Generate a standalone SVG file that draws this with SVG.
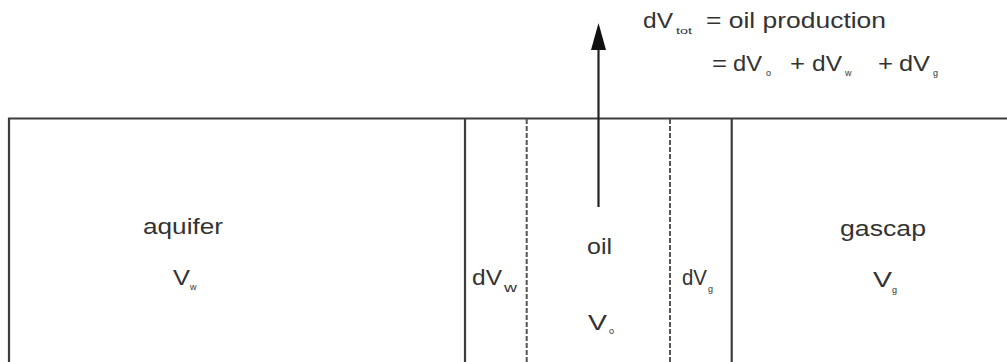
<svg xmlns="http://www.w3.org/2000/svg" width="1007" height="362" viewBox="0 0 1007 362">
<style>
.t{font-family:"Liberation Sans",Arial,sans-serif;font-size:22px;fill:#333;}
.s{font-family:"Liberation Sans",Arial,sans-serif;font-size:9px;fill:#333;}
.s2{font-family:"Liberation Sans",Arial,sans-serif;font-size:12px;fill:#333;}
.solid{stroke:#3c3c3c;stroke-width:2.2;fill:none;}
.dash{stroke:#555;stroke-width:2;fill:none;stroke-dasharray:5 2;}
</style>
<defs>
<marker id="ah" markerWidth="27" markerHeight="15" refX="0" refY="7.5" orient="auto" markerUnits="userSpaceOnUse" viewBox="0 0 27 15">
<path d="M0 0 L27 7.5 L0 15 Z" fill="#111"/>
</marker>
</defs>
<rect width="1007" height="362" fill="#fff"/>
<g id="reservoir">
<path class="solid" d="M9 362 V118.5 H1007"/>
<line class="solid" x1="465" y1="118.5" x2="465" y2="362"/>
<line class="solid" x1="731.7" y1="118.5" x2="731.7" y2="362"/>
<line class="dash" x1="526.7" y1="119" x2="526.7" y2="362"/>
<line class="dash" x1="670" y1="119" x2="670" y2="362" stroke-width="2.4"/>
</g>
<g id="aquifer">
<text class="t" x="143" y="234" textLength="80" lengthAdjust="spacingAndGlyphs">aquifer</text>
<text class="t" x="173" y="285" textLength="17" lengthAdjust="spacingAndGlyphs">V</text>
<text class="s" x="190" y="290">w</text>
</g>
<g id="dVw">
<text class="t" x="472" y="285" textLength="30" lengthAdjust="spacingAndGlyphs">dV</text>
<text class="s2" x="504" y="292" textLength="13" lengthAdjust="spacingAndGlyphs">w</text>
</g>
<g id="oil">
<text class="t" x="587" y="254" textLength="25" lengthAdjust="spacingAndGlyphs">oil</text>
<text class="t" x="588" y="330" textLength="19" lengthAdjust="spacingAndGlyphs">V</text>
<text class="s" x="609" y="334">o</text>
</g>
<g id="dVg">
<text class="t" x="682" y="285" textLength="25" lengthAdjust="spacingAndGlyphs">dV</text>
<text class="s" x="708" y="292">g</text>
</g>
<g id="gascap">
<text class="t" x="840" y="236" textLength="86" lengthAdjust="spacingAndGlyphs">gascap</text>
<text class="t" x="873" y="287" textLength="19" lengthAdjust="spacingAndGlyphs">V</text>
<text class="s" x="892" y="293">g</text>
</g>
<g id="production-label">
<text class="t" x="643" y="28" textLength="30" lengthAdjust="spacingAndGlyphs">dV</text>
<text class="s" x="676" y="34" textLength="16" lengthAdjust="spacingAndGlyphs">tot</text>
<text class="t" x="706" y="28" textLength="180" lengthAdjust="spacingAndGlyphs">= oil production</text>
<text class="t" x="712" y="71" textLength="15" lengthAdjust="spacingAndGlyphs">=</text>
<text class="t" x="733" y="71" textLength="29" lengthAdjust="spacingAndGlyphs">dV</text>
<text class="s" x="766" y="76">o</text>
<text class="t" x="790" y="71" textLength="15" lengthAdjust="spacingAndGlyphs">+</text>
<text class="t" x="812" y="71" textLength="30" lengthAdjust="spacingAndGlyphs">dV</text>
<text class="s" x="845" y="76">w</text>
<text class="t" x="878" y="71" textLength="15" lengthAdjust="spacingAndGlyphs">+</text>
<text class="t" x="899" y="71" textLength="31" lengthAdjust="spacingAndGlyphs">dV</text>
<text class="s" x="933" y="76">g</text>
</g>
<g id="connectors">
<line x1="598.5" y1="207" x2="598.5" y2="50" stroke="#222" stroke-width="2.2" marker-end="url(#ah)"/>
</g>
</svg>
